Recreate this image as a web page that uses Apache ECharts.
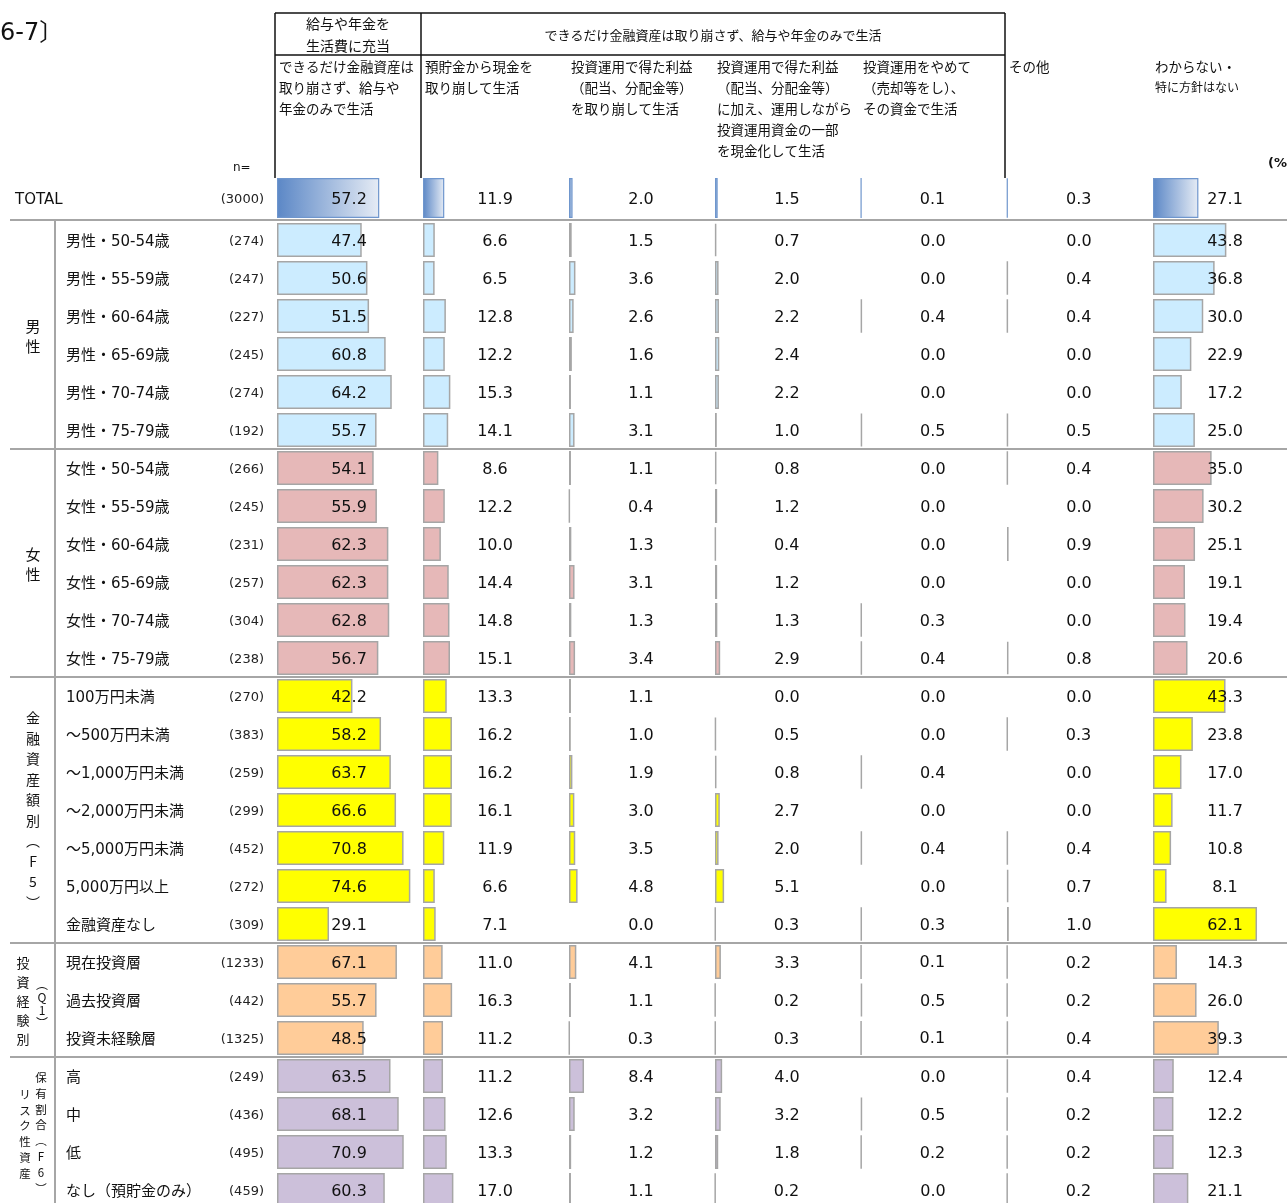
<!DOCTYPE html>
<html>
<head>
<meta charset="utf-8">
<script src="https://cdn.jsdelivr.net/npm/echarts@6/dist/echarts.min.js"></script>
<style>
  html, body { margin: 0; padding: 0; background: #fff; overflow: hidden; }
  #chart { width: 1287px; height: 1224px; }
</style>
</head>
<body>
<div id="chart"></div>
<script>
// ---- data ----------------------------------------------------------------
const categories = [
  '男性・50-54歳', '男性・55-59歳', '男性・60-64歳', '男性・65-69歳', '男性・70-74歳', '男性・75-79歳',
  '女性・50-54歳', '女性・55-59歳', '女性・60-64歳', '女性・65-69歳', '女性・70-74歳', '女性・75-79歳',
  '100万円未満', '～500万円未満', '～1,000万円未満', '～2,000万円未満', '～5,000万円未満', '5,000万円以上', '金融資産なし',
  '現在投資層', '過去投資層', '投資未経験層',
  '高', '中', '低', 'なし（預貯金のみ）'
];
const sampleSizes = [274, 247, 227, 245, 274, 192, 266, 245, 231, 257, 304, 238,
  270, 383, 259, 299, 452, 272, 309, 1233, 442, 1325, 249, 436, 495, 459];

const totalName = 'TOTAL';
const totalSize = 3000;
const totalValues = [57.2, 11.9, 2.0, 1.5, 0.1, 0.3, 27.1];

const salaryOnly = [47.4, 50.6, 51.5, 60.8, 64.2, 55.7, 54.1, 55.9, 62.3, 62.3, 62.8, 56.7,
  42.2, 58.2, 63.7, 66.6, 70.8, 74.6, 29.1, 67.1, 55.7, 48.5, 63.5, 68.1, 70.9, 60.3];
const fromSavings = [6.6, 6.5, 12.8, 12.2, 15.3, 14.1, 8.6, 12.2, 10.0, 14.4, 14.8, 15.1,
  13.3, 16.2, 16.2, 16.1, 11.9, 6.6, 7.1, 11.0, 16.3, 11.2, 11.2, 12.6, 13.3, 17.0];
const fromProfit = [1.5, 3.6, 2.6, 1.6, 1.1, 3.1, 1.1, 0.4, 1.3, 3.1, 1.3, 3.4,
  1.1, 1.0, 1.9, 3.0, 3.5, 4.8, 0.0, 4.1, 1.1, 0.3, 8.4, 3.2, 1.2, 1.1];
const profitPlusPrincipal = [0.7, 2.0, 2.2, 2.4, 2.2, 1.0, 0.8, 1.2, 0.4, 1.2, 1.3, 2.9,
  0.0, 0.5, 0.8, 2.7, 2.0, 5.1, 0.3, 3.3, 0.2, 0.3, 4.0, 3.2, 1.8, 0.2];
const sellAndLive = [0.0, 0.0, 0.4, 0.0, 0.0, 0.5, 0.0, 0.0, 0.0, 0.0, 0.3, 0.4,
  0.0, 0.0, 0.4, 0.0, 0.4, 0.0, 0.3, 0.1, 0.5, 0.1, 0.0, 0.5, 0.2, 0.0];
const otherPlan = [0.0, 0.4, 0.4, 0.0, 0.0, 0.5, 0.4, 0.0, 0.9, 0.0, 0.0, 0.8,
  0.0, 0.3, 0.0, 0.0, 0.4, 0.7, 1.0, 0.2, 0.2, 0.4, 0.4, 0.2, 0.2, 0.2];
const noPlan = [43.8, 36.8, 30.0, 22.9, 17.2, 25.0, 35.0, 30.2, 25.1, 19.1, 19.4, 20.6,
  43.3, 23.8, 17.0, 11.7, 10.8, 8.1, 62.1, 14.3, 26.0, 39.3, 12.4, 12.2, 12.3, 21.1];

const columns = [salaryOnly, fromSavings, fromProfit, profitPlusPrincipal, sellAndLive, otherPlan, noPlan];

const columnTitles = [
  'できるだけ金融資産は\n取り崩さず、給与や\n年金のみで生活',
  '預貯金から現金を\n取り崩して生活',
  '投資運用で得た利益\n（配当、分配金等）\nを取り崩して生活',
  '投資運用で得た利益\n（配当、分配金等）\nに加え、運用しながら\n投資運用資金の一部\nを現金化して生活',
  '投資運用をやめて\n（売却等をし）、\nその資金で生活',
  'その他',
  'わからない・'
];
const columnSubTitle = '特に方針はない';
const headerLeft = '給与や年金を\n生活費に充当';
const headerSpan = 'できるだけ金融資産は取り崩さず、給与や年金のみで生活';

// row groups: size and bar colour
const groupSizes = [6, 6, 7, 3, 4];
const groupColors = ['#ccecff', '#e6b8b8', '#ffff00', '#ffcc99', '#ccc0da'];

// ---- layout ----------------------------------------------------------------
const COL_LEFT = 277, COL_STEP = 146, COL_W = 143, AXIS_MAX = 80;
const ROW_TOP = 221, ROW_H = 38, TOTAL_TOP = 178, TOTAL_H = 40, BAR_H = 34;
const NUM_FONT = "'DejaVu Sans', 'Noto Sans CJK JP', sans-serif";
const JP_FONT = "'Noto Sans CJK JP', 'DejaVu Sans', sans-serif";
const LINE_GRAY = '#a6a6a6';

function groupOf(k) {
  let acc = 0;
  for (let g = 0; g < groupSizes.length; g++) {
    acc += groupSizes[g];
    if (k < acc) return g;
  }
  return groupSizes.length - 1;
}

const grids = [], xAxes = [], yAxes = [], series = [];

const valueLabel = barH => ({
  show: true,
  position: [72, barH / 2 + 2],
  align: 'center',
  verticalAlign: 'middle',
  fontFamily: NUM_FONT,
  fontSize: 16,
  color: '#111',
  formatter: p => Number(p.value).toFixed(1)
});

const rowLabel = (nameWidth) => ({
  nm: { width: nameWidth, align: 'left', fontFamily: NUM_FONT, fontSize: 15, color: '#111', padding: [4, 0, 0, 0] },
  n: { width: 58, align: 'right', fontFamily: NUM_FONT, fontSize: 13, color: '#222', padding: [4, 0, 0, 0] }
});

columns.forEach((vals, c) => {
  const left = COL_LEFT + COL_STEP * c;

  // TOTAL row
  grids.push({ left, top: TOTAL_TOP, width: COL_W, height: TOTAL_H, containLabel: false });
  const gT = grids.length - 1;
  xAxes.push({ gridIndex: gT, type: 'value', min: 0, max: AXIS_MAX, show: false });
  yAxes.push({
    gridIndex: gT, type: 'category', data: [totalName], inverse: true,
    axisLine: { show: false }, axisTick: { show: false }, splitLine: { show: false },
    axisLabel: c === 0 ? {
      show: true, margin: 13,
      formatter: v => '{nm|' + v + '}{n|(' + totalSize + ')}',
      rich: rowLabel(191)
    } : { show: false }
  });
  series.push({
    type: 'bar', xAxisIndex: gT, yAxisIndex: gT, barWidth: TOTAL_H,
    data: [{
      value: totalValues[c],
      itemStyle: {
        color: new echarts.graphic.LinearGradient(0, 0, 1, 0, [
          { offset: 0, color: '#5b87c6' }, { offset: 1, color: '#e6ecf5' }
        ]),
        borderColor: '#6f96cd',
        borderWidth: totalValues[c] > 0 ? 1.2 : 0
      }
    }],
    label: valueLabel(TOTAL_H),
    silent: true, animation: false
  });

  // attribute rows
  grids.push({ left, top: ROW_TOP, width: COL_W, height: ROW_H * categories.length, containLabel: false });
  const gM = grids.length - 1;
  xAxes.push({ gridIndex: gM, type: 'value', min: 0, max: AXIS_MAX, show: false });
  yAxes.push({
    gridIndex: gM, type: 'category', data: categories, inverse: true,
    axisLine: { show: false }, axisTick: { show: false }, splitLine: { show: false },
    axisLabel: c === 0 ? {
      show: true, margin: 13, interval: 0,
      formatter: (v, i) => '{nm|' + v + '}{n|(' + sampleSizes[i] + ')}',
      rich: rowLabel(140)
    } : { show: false }
  });
  series.push({
    type: 'bar', xAxisIndex: gM, yAxisIndex: gM, barWidth: BAR_H,
    data: vals.map((v, k) => ({
      value: v,
      itemStyle: {
        color: groupColors[groupOf(k)],
        borderColor: LINE_GRAY,
        borderWidth: v > 0 ? 1.5 : 0
      }
    })),
    label: valueLabel(BAR_H),
    silent: true, animation: false
  });
});

// ---- table decoration -------------------------------------------------------
const graphics = [];
const line = (x1, y1, x2, y2, color, w) => graphics.push({
  type: 'line', silent: true, z: 10,
  shape: { x1, y1, x2, y2 }, style: { stroke: color, lineWidth: w }
});
const text = (x, y, str, opt) => graphics.push({
  type: 'text', silent: true, z: 10, x, y,
  style: Object.assign({ text: str, fill: '#111', fontFamily: JP_FONT, fontSize: 14 }, opt)
});

// header frame
const hx0 = COL_LEFT - 2, hx1 = COL_LEFT + COL_STEP - 2, hx2 = COL_LEFT + COL_STEP * 5 - 2;
line(hx0, 13, hx2, 13, '#111', 1.5);
line(hx0, 55, hx2, 55, '#111', 1.5);
[hx0, hx1, hx2].forEach(x => line(x, 13, x, TOTAL_TOP, '#111', 1.5));
text((hx0 + hx1) / 2, 35, headerLeft, { align: 'center', verticalAlign: 'middle', fontSize: 14, lineHeight: 22 });
text((hx1 + hx2) / 2, 35, headerSpan, { align: 'center', verticalAlign: 'middle', fontSize: 13 });

// column titles
columnTitles.forEach((t, c) => {
  text(COL_LEFT + COL_STEP * c + 2, 56, t, { align: 'left', verticalAlign: 'top', fontSize: 13.5, lineHeight: 21 });
});
text(COL_LEFT + COL_STEP * 6 + 2, 77, columnSubTitle, { align: 'left', verticalAlign: 'top', fontSize: 12, lineHeight: 21 });

text(233, 168, 'n=', { align: 'left', verticalAlign: 'middle', fontFamily: NUM_FONT, fontSize: 12 });
text(1268, 164, '(%)', { align: 'left', verticalAlign: 'middle', fontFamily: NUM_FONT, fontSize: 13, fontWeight: 'bold' });
text(0, 34, '6-7〕', { align: 'left', verticalAlign: 'middle', fontFamily: NUM_FONT, fontSize: 24 });

// row separators
line(10, ROW_TOP - 1, 1287, ROW_TOP - 1, LINE_GRAY, 2);
let acc = 0;
const groupMid = [];
groupSizes.forEach((n, g) => {
  groupMid.push(ROW_TOP + (acc + n / 2) * ROW_H);
  acc += n;
  if (g < groupSizes.length - 1) line(10, ROW_TOP + acc * ROW_H, 1287, ROW_TOP + acc * ROW_H, LINE_GRAY, 2);
});
line(55, ROW_TOP, 55, ROW_TOP + acc * ROW_H, LINE_GRAY, 2);

// vertical group captions
const vtext = (x, yMid, chars, size, lh) => text(x, yMid, chars.join('\n'),
  { align: 'center', verticalAlign: 'middle', fontSize: size, lineHeight: lh });
vtext(33, groupMid[0] + 1, ['男', '性'], 15, 20);
vtext(33, groupMid[1] + 1, ['女', '性'], 15, 20);
vtext(33, groupMid[2], ['金', '融', '資', '産', '額', '別', '︵', 'F', '5', '︶'], 14, 20.5);
vtext(23, groupMid[3] + 1, ['投', '資', '経', '験', '別'], 13, 19);
vtext(42, groupMid[3] + 4, ['︵', 'Q', '1', '︶'], 12, 13);
vtext(41, groupMid[4], ['保', '有', '割', '合', '︵', 'F', '6', '︶'], 11.5, 15.9);
vtext(25, groupMid[4] + 1, ['リ', 'ス', 'ク', '性', '資', '産'], 11.5, 15.9);

const chart = echarts.init(document.getElementById('chart'), null, { renderer: 'canvas' });
chart.setOption({
  backgroundColor: '#fff',
  animation: false,
  grid: grids,
  xAxis: xAxes,
  yAxis: yAxes,
  series: series,
  graphic: graphics
});
</script>
</body>
</html>
